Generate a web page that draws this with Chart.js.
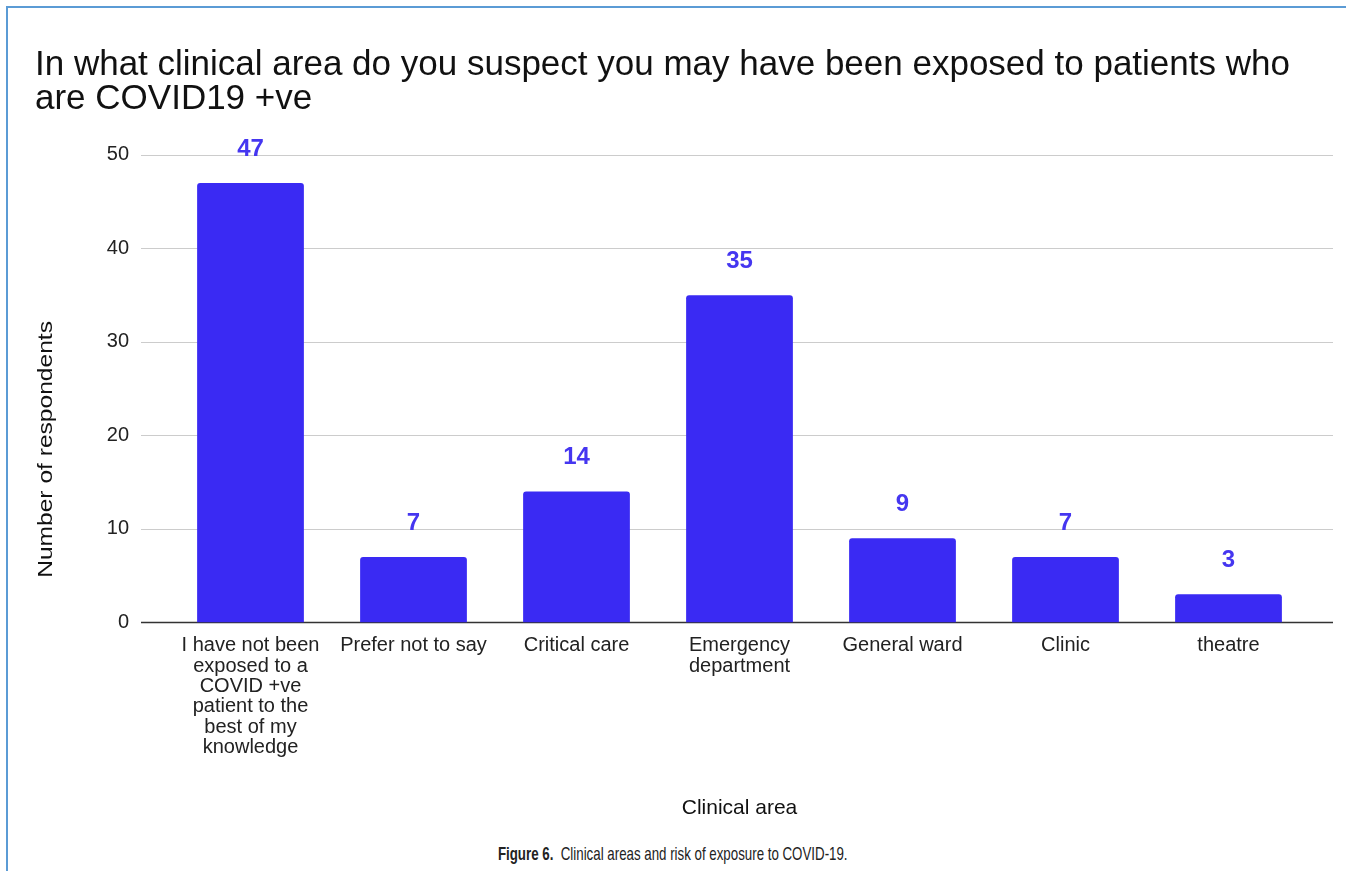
<!DOCTYPE html>
<html>
<head>
<meta charset="utf-8">
<script src="https://cdn.jsdelivr.net/npm/chart.js@4.4.1/dist/chart.umd.min.js"></script>
<style>
  body { margin: 0; background: #fff; width: 1346px; height: 871px; overflow: hidden; position: relative; }
  #frame { position: absolute; left: 6px; top: 6px; right: 0; bottom: 0;
           border-top: 2px solid #5b9bd5; border-left: 2px solid #5b9bd5; }
  #wrap { position: absolute; left: 9px; top: 9px; width: 1337px; height: 820px; }
  #caption { position: absolute; left: 0; width: 1346px; top: 843px; text-align: center; }
  #caption span { display: inline-block; transform: scaleX(0.7); transform-origin: center;
                  font-family: 'Liberation Sans', Arial, sans-serif; font-size: 19px; color: #222; white-space: pre; }
  #caption b { font-weight: bold; }
</style>
</head>
<body>
<div id="frame"></div>
<div id="wrap"><canvas id="chart"></canvas></div>
<div id="caption"><span><b>Figure 6.</b>  Clinical areas and risk of exposure to COVID-19.</span></div>
<script>
// categories as drawn under the bars (one entry per line)
const categories = [
    ['I have not been', 'exposed to a', 'COVID +ve', 'patient to the', 'best of my', 'knowledge'],
    'Prefer not to say',
    'Critical care',
    ['Emergency', 'department'],
    'General ward',
    'Clinic',
    'theatre'
];
const respondents = [47, 7, 14, 35, 9, 7, 3];
const yTicks = [0, 10, 20, 30, 40, 50];

const chartTitle = ['In what clinical area do you suspect you may have been exposed to patients who', 'are COVID19 +ve'];
const yTitle = 'Number of respondents';
const xTitle = 'Clinical area';

const barColor = '#3a2af3';
const fontFamily = "'Liberation Sans', Arial, sans-serif";

// gridlines drawn a bit wider than the category area, like the original
const gridPlugin = {
    id: 'wideGrid',
    beforeDatasetsDraw(chart) {
        const ctx = chart.ctx;
        const area = chart.chartArea;
        const y = chart.scales.y;
        ctx.save();
        yTicks.forEach(v => {
            const py = Math.round(y.getPixelForValue(v)) + 0.5;
            ctx.beginPath();
            ctx.strokeStyle = v === 0 ? '#333333' : '#cccccc';
            ctx.lineWidth = v === 0 ? 1.5 : 1;
            ctx.moveTo(area.left - 28, py);
            ctx.lineTo(area.right + 23, py);
            ctx.stroke();
        });
        ctx.restore();
    }
};

// value labels above each bar
const valueLabels = {
    id: 'valueLabels',
    afterDatasetsDraw(chart) {
        const ctx = chart.ctx;
        const meta = chart.getDatasetMeta(0);
        ctx.save();
        ctx.fillStyle = '#4536f0';
        ctx.font = 'bold 24px ' + fontFamily;
        ctx.textAlign = 'center';
        ctx.textBaseline = 'middle';
        meta.data.forEach((bar, i) => {
            ctx.fillText(respondents[i], bar.x, bar.y - 34);
        });
        ctx.restore();
    }
};

// y axis title, centred between plot top and bottom of the category labels
const yTitlePlugin = {
    id: 'yTitle',
    afterDraw(chart) {
        const ctx = chart.ctx;
        const y = chart.scales.y;
        const x = chart.scales.x;
        const cy = (chart.chartArea.top + x.bottom - 77) / 2;
        ctx.save();
        ctx.translate(y.left + 11, cy);
        ctx.rotate(-Math.PI / 2);
        ctx.scale(1.17, 1);
        ctx.fillStyle = '#111';
        ctx.font = '21px ' + fontFamily;
        ctx.textAlign = 'center';
        ctx.textBaseline = 'middle';
        ctx.fillText(yTitle, 0, 0);
        ctx.restore();
    }
};

new Chart(document.getElementById('chart'), {
    type: 'bar',
    data: {
        labels: categories,
        datasets: [{
            data: respondents,
            backgroundColor: barColor,
            borderRadius: 3,
            barPercentage: 0.655,
            categoryPercentage: 1
        }]
    },
    options: {
        responsive: true,
        maintainAspectRatio: false,
        animation: false,
        layout: { padding: { left: 26, right: 36, top: 0, bottom: 8 } },
        scales: {
            x: {
                grid: { display: false, drawTicks: false },
                border: { display: false },
                ticks: {
                    color: '#222',
                    padding: 13,
                    maxRotation: 0,
                    autoSkip: false,
                    font: { family: fontFamily, size: 20, lineHeight: 1.02 }
                },
                title: {
                    display: true,
                    text: xTitle,
                    color: '#111',
                    padding: { top: 25, bottom: 0 },
                    font: { family: fontFamily, size: 21 }
                }
            },
            y: {
                min: 0,
                max: 50,
                grid: { display: false, drawTicks: false },
                border: { display: false },
                ticks: {
                    stepSize: 10,
                    color: '#222',
                    padding: 40,
                    font: { family: fontFamily, size: 20 }
                },
                afterFit(scale) { scale.width = 134; }
            }
        },
        plugins: {
            legend: { display: false },
            tooltip: { enabled: false },
            title: {
                display: true,
                text: chartTitle,
                align: 'start',
                color: '#111',
                padding: { top: 39, bottom: 39 },
                font: { family: fontFamily, size: 35, weight: 'normal', lineHeight: 0.97 }
            }
        }
    },
    plugins: [gridPlugin, valueLabels, yTitlePlugin]
});
</script>
</body>
</html>
